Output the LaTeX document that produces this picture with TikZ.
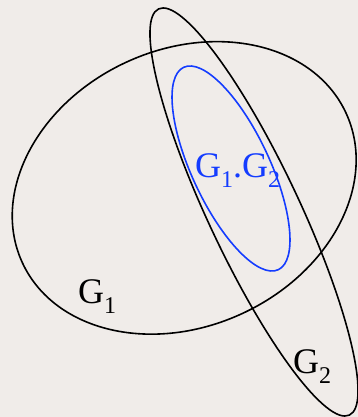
\documentclass[tikz,border=0pt]{standalone}
\usepackage{fontspec}
\setmainfont{Liberation Serif}
\definecolor{bgc}{RGB}{240,236,233}
\definecolor{blueline}{RGB}{20,60,255}
\newcommand\mysub[1]{\raisebox{-10pt}{\fontsize{24}{24}\selectfont #1}}
\begin{document}
\begin{tikzpicture}[x=1pt,y=1pt,
  setline/.style={line width=1.6pt},
  lbl/.style={inner sep=0pt,anchor=base west,font=\fontsize{36}{36}\selectfont}]
\fill[bgc] (0,0) rectangle (358,417);
\useasboundingbox (0,0) rectangle (358,417);
\draw[setline,black] (184.2,229.1) ellipse [x radius=178.3, y radius=138.4, rotate=24.85];
\draw[setline,black] (254,205) ellipse [x radius=224.4, y radius=45.8, rotate=-64.84];
\draw[setline,blueline] (231,248.5) ellipse [x radius=111.7, y radius=38.9, rotate=-64.95];
\node[lbl] (g1) at (78,113) {G\mysub{1}};
\node[lbl] (g2) at (293,43) {G\mysub{2}};
\node[lbl,text=blueline] (g12) at (195,239) {G\mysub{1}.G\mysub{2}};
\end{tikzpicture}
\end{document}
